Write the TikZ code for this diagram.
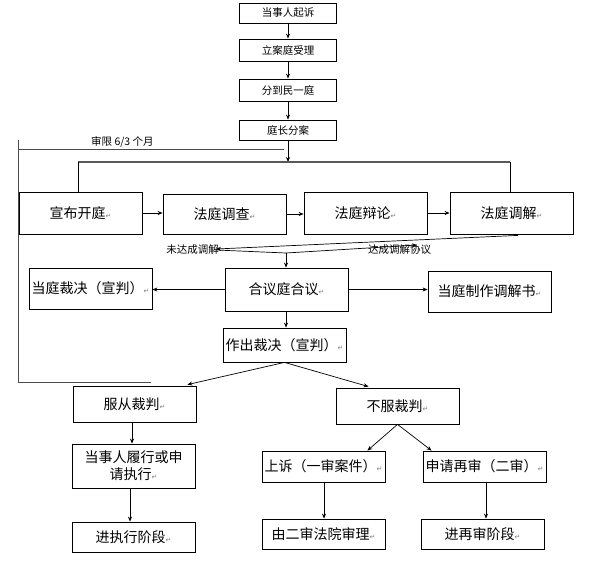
\documentclass[tikz,border=0pt]{standalone}
\usepackage{fontspec}
\setmainfont{Noto Sans CJK SC}
\newfontfamily\dejavu{DejaVu Sans}
\usetikzlibrary{arrows.meta,calc}
\newcommand{\parmark}{{\dejavu\color{gray}\fontsize{7}{7}\selectfont ↵}}
\begin{document}
\begin{tikzpicture}[x=1pt,y=-1pt,
  box/.style={draw=black,line width=0.8pt,align=center,inner sep=1pt,fill=white},
  smallbox/.style={box,minimum width=97pt,font=\fontsize{10.5}{12}\selectfont},
  bigbox/.style={box,minimum width=123pt,font=\fontsize{14}{17}\selectfont},
  arr/.style={-{Stealth[length=5pt,width=4pt]},line width=0.7pt},
  plain/.style={line width=0.7pt},
  lbl/.style={font=\fontsize{10.5}{12}\selectfont,inner sep=0pt}]
\useasboundingbox (0,0) rectangle (594,568);
\fill[white] (0,0) rectangle (594,568);

% top chain
\node[smallbox,minimum height=20pt] (n1) at (288,13) {当事人起诉};
\node[smallbox,minimum height=22pt] (n2) at (288,50) {立案庭受理};
\node[smallbox,minimum height=22pt] (n3) at (288,90) {分到民一庭};
\node[smallbox,minimum height=20pt] (n4) at (288,130) {庭长分案};

% trial row
\node[bigbox,minimum height=42pt] (r1) at (80.5,213) {宣布开庭\parmark};
\node[bigbox,minimum height=40pt] (r2) at (224.5,214) {法庭调查\parmark};
\node[bigbox,minimum height=42pt] (r3) at (365.5,213) {法庭辩论\parmark};
\node[bigbox,minimum height=42pt] (r4) at (511.5,213) {法庭调解\parmark};

% middle
\node[bigbox,minimum height=41pt] (m1) at (90.5,288.5) {当庭裁决（宣判）\parmark};
\node[bigbox,minimum height=43pt] (m2) at (286.5,289.5) {合议庭合议\parmark};
\node[bigbox,minimum height=41pt] (m3) at (489.5,291.5) {当庭制作调解书\parmark};
\node[bigbox,minimum height=34pt] (v) at (284.5,345) {作出裁决（宣判）\parmark};

% left branch
\node[bigbox,minimum height=36pt] (a1) at (134.5,404) {服从裁判\parmark};
\node[bigbox,minimum height=44pt] (a2) at (133.5,466) {当事人履行或申\\请执行\parmark};
\node[bigbox,minimum height=30pt] (a3) at (133.5,537) {进执行阶段\parmark};

% right branch
\node[bigbox,minimum height=36pt] (b1) at (397.5,406) {不服裁判\parmark};
\node[bigbox,minimum height=31pt] (b2) at (323.5,466.5) {上诉（一审案件）\parmark};
\node[bigbox,minimum height=31pt] (b3) at (484.5,466.5) {申请再审（二审）\parmark};
\node[bigbox,minimum height=30pt] (b4) at (323.5,534) {由二审法院审理\parmark};
\node[bigbox,minimum height=30pt] (b5) at (482.5,534) {进再审阶段\parmark};

% labels
\node[lbl,anchor=west] (lim) at (91,142) {审限 6/3 个月};
\node[lbl,anchor=east] (nola) at (219,250) {未达成调解};
\node[lbl,anchor=west] (yesa) at (368,250) {达成调解协议};

% top arrows
\draw[arr] (n1) -- (n2);
\draw[arr] (n2) -- (n3);
\draw[arr] (n3) -- (n4);
\coordinate (h) at (288,162);
\draw[arr] (n4) -- (h);
\coordinate (hL) at (78,162);
\coordinate (hR) at (510,162);
\draw[line width=1.4pt,gray!70!black] (hL) -- (hR);
\draw[plain] (hL) -- (hL |- r1.north);
\draw[plain] (hR) -- (hR |- r4.north);

% time-limit frame
\coordinate (f1) at (18,140);
\coordinate (f2) at (18,149);
\coordinate (f3) at (284,149);
\coordinate (f4) at (18,382);
\coordinate (f5) at (151,382);
\draw[plain,gray!60!black] (f1) -- (f4) -- (f5);
\draw[plain,gray!60!black] (f2) -- (f3);

% row arrows
\draw[arr] (r1.east) -- (r1.east -| r2.west);
\draw[arr] (r2.east) -- (r2.east -| r3.west);
\draw[arr] (r3.east) -- (r3.east -| r4.west);

% mediation outcome
\coordinate (s) at ($(r4.south)+(6.5,1)$);
\coordinate (tipL) at (216,249);
\coordinate (tipL2) at (216,250);
\coordinate (meet) at (286,253);
\coordinate (tipR) at (417,245);
\draw[arr] (s) -- (tipL);
\draw[plain] (tipL2) -- (meet);
\draw[arr] (meet) -- (tipR);
\draw[arr] (meet) -- (meet |- m2.north);

% collegial panel
\draw[arr] (m2.west) -- (m2.west -| m1.east);
\draw[arr] (m2.east) -- (m2.east -| m3.west);
\draw[arr] (m2.south -| 286,0) -- (286,0 |- v.north);

% judgment branches
\draw[arr] (v.south) -- ($(a1.north east)+(-9,-1)$);
\draw[arr] (v.south) -- ($(b1.north west)+(33,-1)$);
\draw[arr] ($(a1.south)+(-2.5,0)$) -- ($(a1.south |- a2.north)+(-2.5,0)$);
\draw[arr] ($(a2.south)+(-3.5,0)$) -- ($(a2.south |- a3.north)+(-3.5,0)$);
\draw[arr] (b1.south) -- ($(b2.north east)+(-18,0)$);
\draw[arr] (b1.south) -- ($(b3.north west)+(9,0)$);
\draw[arr] ($(b2.south)+(0.5,1)$) -- ($(b2.south |- b4.north)+(0.5,0)$);
\draw[arr] ($(b3.south)+(1.5,1)$) -- ($(b3.south |- b5.north)+(1.5,0)$);
\end{tikzpicture}
\end{document}
